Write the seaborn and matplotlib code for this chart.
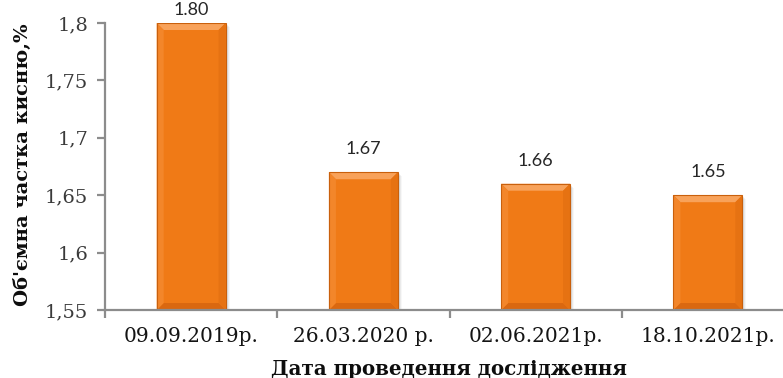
import numpy as np
import pandas as pd
import seaborn as sns
import matplotlib
matplotlib.use("Agg")
import matplotlib.pyplot as plt
from matplotlib.patches import Polygon
from matplotlib.ticker import FixedLocator, FuncFormatter

# Survey dates and measured oxygen volume fraction, %
dates = ["09.09.2019р.", "26.03.2020 р.", "02.06.2021р.", "18.10.2021р."]
oxygen = [1.80, 1.67, 1.66, 1.65]
value_labels = ["1.80", "1.67", "1.66", "1.65"]
y_ticks = [1.55, 1.60, 1.65, 1.70, 1.75, 1.80]

df = pd.DataFrame({"date": dates, "oxygen": oxygen})

sns.set_theme(style="white")
SERIF = ["DejaVu Serif"]
plt.rcParams["font.family"] = SERIF

W, H = 783, 378
fig = plt.figure(figsize=(W / 100, H / 100), dpi=100)
ax_left, ax_right, ax_top, ax_bottom = 105, 794, 23, 310
ax = fig.add_axes([ax_left / W, 1 - ax_bottom / H,
                   (ax_right - ax_left) / W, (ax_bottom - ax_top) / H])

face = "#F07A16"
sns.barplot(data=df, x="date", y="oxygen", order=dates, color=face,
            saturation=1, width=0.4, edgecolor="none", ax=ax, zorder=3)

ax.set_xlim(-0.5, len(dates) - 0.5)
ax.set_ylim(y_ticks[0], y_ticks[-1])

# Axes styling
for side in ("top", "right"):
    ax.spines[side].set_visible(False)
for side in ("left", "bottom"):
    ax.spines[side].set_color("#8C8C8C")
    ax.spines[side].set_linewidth(1.6)
    ax.spines[side].set_zorder(5)

ax.yaxis.set_major_locator(FixedLocator(y_ticks))
ax.yaxis.set_major_formatter(
    FuncFormatter(lambda v, p: f"{v:.2f}".rstrip("0").replace(".", ",")))
ax.tick_params(axis="y", which="major", direction="out", length=6, width=1.6,
               color="#8C8C8C", labelsize=14, labelcolor="#3A3A3A", pad=6, left=True)

ax.set_xticks(range(len(dates)))
ax.set_xticklabels(dates)
ax.set_xticks(np.arange(-0.5, len(dates), 1.0), minor=True)
ax.tick_params(axis="x", which="major", length=0, labelsize=14.5,
               labelcolor="#141414", pad=12)
ax.tick_params(axis="x", which="minor", direction="out", length=6, width=1.6,
               color="#8C8C8C", bottom=True)
ax.set_xlabel("")
ax.set_ylabel("")
ax.grid(False)

fig.canvas.draw()
to_data = ax.transData.inverted()
axis_floor_px = ax.transAxes.transform((0, 0))[1]


def poly(points_px, **kw):
    pts = to_data.transform(np.array(points_px, dtype=float))
    ax.add_patch(Polygon(pts, closed=True, **kw))


# Bevelled bar faces with a soft drop shadow (visible part of each bar)
bev = 7
for patch in ax.patches[:len(dates)]:
    (x0, y0), (x1, y1) = ax.transData.transform(
        [(patch.get_x(), patch.get_y()),
         (patch.get_x() + patch.get_width(), patch.get_y() + patch.get_height())])
    y0 = max(y0, axis_floor_px)
    for k, a in enumerate([0.10, 0.07, 0.05, 0.03]):
        s = 1 + k
        poly([(x0 + s, y0 + 1), (x1 + s, y0 + 1), (x1 + s, y1 - s),
              (x0 + s, y1 - s)], facecolor="#000000", alpha=a,
             edgecolor="none", zorder=2)
    poly([(x0, y1), (x1, y1), (x1 - bev, y1 - bev), (x0 + bev, y1 - bev)],
         facecolor="#F8A25A", edgecolor="none", zorder=4)
    poly([(x0, y0), (x1, y0), (x1 - bev, y0 + bev), (x0 + bev, y0 + bev)],
         facecolor="#DA6810", edgecolor="none", zorder=4)
    poly([(x0, y0), (x0, y1), (x0 + bev, y1 - bev), (x0 + bev, y0 + bev)],
         facecolor="#F3862A", edgecolor="none", zorder=4)
    poly([(x1, y0), (x1, y1), (x1 - bev, y1 - bev), (x1 - bev, y0 + bev)],
         facecolor="#E67212", edgecolor="none", zorder=4)
    poly([(x0, y0), (x1, y0), (x1, y1), (x0, y1)], facecolor="none",
         edgecolor="#C9600C", linewidth=0.8, zorder=4.5)

# Value labels above the bars
for patch, text in zip(ax.patches[:len(dates)], value_labels):
    cx = patch.get_x() + patch.get_width() / 2
    top = patch.get_y() + patch.get_height()
    top_px_from_fig_top = H - ax.transData.transform((cx, top))[1]
    offset = min(23, top_px_from_fig_top - 10)
    ax.annotate(text, (cx, top), xytext=(0, offset), textcoords="offset pixels",
                ha="center", va="center", fontsize=13, color="#262626",
                family=["Lato", "DejaVu Sans"], annotation_clip=False, zorder=6)

# Axis titles
fig.text(23 / W, 1 - 165 / H, "Об'ємна частка кисню,%", rotation=90,
         ha="center", va="center", fontsize=14, fontweight="bold", color="#0D0D0D")
fig.text(449 / W, 1 - 369 / H, "Дата проведення дослідження",
         ha="center", va="center", fontsize=14.3, fontweight="bold", color="#0D0D0D")

fig.savefig("out.png", dpi=100)
